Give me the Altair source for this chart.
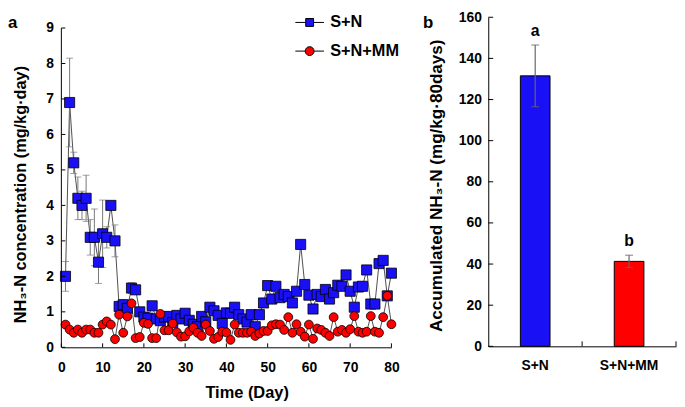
import altair as alt
import pandas as pd

# ---------------- data ----------------
days = list(range(1, 81))
sn = [2.0, 6.9, 5.2, 4.2, 4.0, 4.2, 3.1, 3.1, 2.4, 3.2,
      3.1, 4.0, 3.0, 1.15, 1.2, 1.1, 1.67, 1.62, 1.0, 0.85,
      0.82, 1.17, 0.8, 0.75, 0.85, 0.87, 0.7, 0.9, 0.8, 0.96,
      0.76, 0.65, 0.58, 0.87, 0.72, 1.13, 1.03, 0.9, 0.67, 0.97,
      0.96, 1.13, 0.92, 0.8, 0.71, 0.92, 0.58, 0.92, 1.25, 1.74,
      1.36, 1.72, 1.4, 1.49, 1.43, 1.25, 1.58, 2.9, 1.77, 1.47,
      1.08, 1.49, 1.43, 1.63, 1.36, 1.54, 1.75, 1.72, 2.04, 1.58,
      1.13, 1.7, 1.72, 2.18, 1.22, 1.22, 2.36, 2.45, 1.45, 2.09]
sn_err = [0.42, 1.25, 0.3, 0.6, 0.4, 0.65, 0.5, 0.8, 0.6, 0.95,
          0.3, 0.12, 0.45, 0.15, 0.15, 0.15, 0.15, 0.12, 0.1, 0.1,
          0.1, 0.1, 0.1, 0.1, 0.1, 0.1, 0.1, 0.1, 0.1, 0.1,
          0.1, 0.1, 0.1, 0.1, 0.1, 0.1, 0.1, 0.1, 0.1, 0.1,
          0.1, 0.1, 0.1, 0.1, 0.1, 0.1, 0.1, 0.1, 0.1, 0.1,
          0.1, 0.1, 0.1, 0.1, 0.1, 0.1, 0.1, 0.1, 0.1, 0.1,
          0.1, 0.1, 0.1, 0.1, 0.1, 0.1, 0.1, 0.1, 0.1, 0.1,
          0.1, 0.1, 0.1, 0.1, 0.1, 0.1, 0.1, 0.1, 0.1, 0.1]
snmm = [0.64, 0.5, 0.41, 0.5, 0.41, 0.5, 0.5, 0.41, 0.41, 0.64,
        0.73, 0.64, 0.23, 0.92, 0.41, 0.87, 1.24, 0.26, 0.29, 0.69,
        0.66, 0.26, 0.26, 0.94, 0.48, 0.48, 0.67, 0.42, 0.3, 0.31,
        0.45, 0.55, 0.41, 0.32, 0.64, 0.46, 0.24, 0.29, 0.44, 0.42,
        0.21, 0.64, 0.41, 0.41, 0.41, 0.44, 0.32, 0.39, 0.46, 0.46,
        0.62, 0.65, 0.64, 0.49, 0.85, 0.41, 0.65, 0.44, 0.3, 0.64,
        0.24, 0.53, 0.49, 0.41, 0.32, 0.85, 0.44, 0.49, 0.41, 0.51,
        0.88, 0.44, 0.41, 0.44, 0.88, 0.44, 0.41, 0.85, 1.45, 0.65]

groups = ["S+N", "S+N+MM"]
acc = [131.5, 41.3]
acc_err = [15.0, 3.0]
letters = ["a", "b"]

x_ticks_left = [0, 10, 20, 30, 40, 50, 60, 70, 80]
y_ticks_left = [0, 1, 2, 3, 4, 5, 6, 7, 8, 9]
y_ticks_right = [0, 20, 40, 60, 80, 100, 120, 140, 160]

# ---------------- styling ----------------
BLUE = "#1a10f5"
RED = "#ff0000"
FONT = "Liberation Sans"
WL, HL = 334, 334
WR, HR = 190, 333
YMAX_L = 9.303

SQ = "M-2,0H-0.55M0.55,0H2M-0.55,-0.55H0.55V0.55H-0.55Z"
CI = ("M-2,0H-0.62M0.62,0H2M-0.62,0A0.62,0.62,0,1,0,0.62,0"
      "A0.62,0.62,0,1,0,-0.62,0Z")

ts = pd.DataFrame({
    "day": days * 2,
    "value": sn + snmm,
    "series": ["S+N"] * len(days) + ["S+N+MM"] * len(days),
})
errdf = pd.DataFrame({
    "day": days,
    "lo": [v - e for v, e in zip(sn, sn_err)],
    "hi": [v + e for v, e in zip(sn, sn_err)],
})

xs = alt.Scale(domain=[0, 80], nice=False, zero=False)
ys = alt.Scale(domain=[0, YMAX_L], nice=False, zero=True)

X_AXIS = alt.Axis(
    values=x_ticks_left, title="Time (Day)", ticks=False, tickSize=0,
    labelPadding=13, labelFlush=False, labelOverlap=False, format="d",
    titleFontSize=16.6, titleX=187.5, titleY=46, titleAlign="center",
    titleBaseline="middle")
Y_AXIS = alt.Axis(
    values=y_ticks_left, title="NH₃-N concentration (mg/kg·day)",
    ticks=False, tickSize=0, domain=False, labelPadding=8,
    labelFlush=False, labelOverlap=False, format="d", titleFontSize=16.5,
    titleX=-41, titleY=179, titleAlign="center", titleBaseline="middle")


def xl(field):
    return alt.X(field, scale=xs, axis=X_AXIS)


def yl(field):
    return alt.Y(field, scale=ys, axis=Y_AXIS)


def make_legend(sym, ly):
    return alt.Legend(
        title=None, orient="none", legendX=243, legendY=ly,
        symbolType=sym, symbolSize=210, labelOffset=12.5, padding=0,
        labelFont=FONT, labelFontSize=16.5, labelFontWeight="bold",
        labelColor="black", symbolStrokeColor="black", symbolStrokeWidth=1,
        symbolOpacity=1,
    )


base = alt.Chart(ts)

err_rule = alt.Chart(errdf).mark_rule(color="#777777", strokeWidth=1).encode(
    x=xl("day:Q"), y=yl("lo:Q"), y2="hi:Q")
err_cap_hi = alt.Chart(errdf).mark_tick(orient="horizontal", size=7, thickness=1,
                                        color="#777777").encode(
    x=xl("day:Q"), y=yl("hi:Q"))
err_cap_lo = alt.Chart(errdf).mark_tick(orient="horizontal", size=7, thickness=1,
                                        color="#777777").encode(
    x=xl("day:Q"), y=yl("lo:Q"))

lines = base.mark_line(color="#222222", strokeWidth=0.8).encode(
    x=xl("day:Q"), y=yl("value:Q"), detail="series:N")
pts_blue = base.transform_filter(alt.datum.series == "S+N").mark_point(
    filled=True, shape="square", size=105, stroke="black", strokeWidth=0.8,
    opacity=1).encode(
    x=xl("day:Q"), y=yl("value:Q"),
    color=alt.Color("series:N", scale=alt.Scale(domain=["S+N"], range=[BLUE]),
                    legend=make_legend(SQ, -3)))
pts_red = base.transform_filter(alt.datum.series == "S+N+MM").mark_point(
    filled=True, shape="circle", size=80, stroke="black", strokeWidth=0.8,
    opacity=1).encode(
    x=xl("day:Q"), y=yl("value:Q"),
    fill=alt.Fill("series:N", scale=alt.Scale(domain=["S+N+MM"], range=[RED]),
                  legend=make_legend(CI, 26)))

ytick_df = pd.DataFrame({"v": y_ticks_left})
xtick_df = pd.DataFrame({"t": x_ticks_left})
yticks_l = alt.Chart(ytick_df).mark_rule(color="black", strokeWidth=1).encode(
    y=yl("v:Q"), x=alt.value(0), x2=alt.value(4))
xticks_l = alt.Chart(xtick_df).mark_rule(color="black", strokeWidth=1).encode(
    x=xl("t:Q"), y=alt.value(HL), y2=alt.value(HL - 4))
yaxis_line = alt.Chart(pd.DataFrame({"a": [0]})).mark_rule(color="black", strokeWidth=1).encode(
    x=alt.value(0), y=alt.Y(datum=0, scale=ys, axis=Y_AXIS), y2=alt.Y2(datum=9))
label_a = alt.Chart(pd.DataFrame({"t": ["a"]})).mark_text(
    font=FONT, fontSize=17, fontWeight="bold", color="black",
    baseline="middle", align="left").encode(
    text="t:N", x=alt.value(-54), y=alt.value(6))

left = alt.layer(lines, err_rule, err_cap_hi, err_cap_lo, pts_blue, pts_red,
                 yticks_l, xticks_l, yaxis_line, label_a).properties(width=WL, height=HL)

# ---------------- right panel ----------------
bars = pd.DataFrame({
    "group": groups,
    "acc": acc,
    "lo": [a - e for a, e in zip(acc, acc_err)],
    "hi": [a + e for a, e in zip(acc, acc_err)],
    "letter": letters,
})
xb = alt.Scale(domain=groups, paddingInner=0, paddingOuter=0)
yb = alt.Scale(domain=[0, 160], nice=False)
XB_AXIS = alt.Axis(title=None, labelAngle=0, ticks=False, tickSize=0, labelPadding=12)
YB_AXIS = alt.Axis(
    values=y_ticks_right, title="Accumulated NH₃-N (mg/kg·80days)",
    ticks=False, tickSize=0, labelPadding=7,
    labelFlush=False, labelOverlap=False, titleFontSize=17.3,
    titleX=-52, titleY=170, titleAlign="center", titleBaseline="middle")


def xr(field, bp=None):
    if bp is None:
        return alt.X(field, scale=xb, axis=XB_AXIS)
    return alt.X(field, scale=xb, axis=XB_AXIS, bandPosition=bp)


def yr(field):
    return alt.Y(field, scale=yb, axis=YB_AXIS)


bchart = alt.Chart(bars)
bar = bchart.mark_bar(size=30, stroke="black", strokeWidth=1).encode(
    x=xr("group:N"), y=yr("acc:Q"),
    fill=alt.Fill("group:N", scale=alt.Scale(domain=groups, range=[BLUE, RED]), legend=None))
bar_err = bchart.mark_rule(color="#666666", strokeWidth=1.2).encode(
    x=xr("group:N"), y=yr("lo:Q"), y2="hi:Q")
bar_cap_hi = bchart.mark_tick(orient="horizontal", size=8, thickness=1.2, color="#666666").encode(
    x=xr("group:N"), y=yr("hi:Q"))
bar_cap_lo = bchart.mark_tick(orient="horizontal", size=8, thickness=1.2, color="#666666").encode(
    x=xr("group:N"), y=yr("lo:Q"))
sig = bchart.mark_text(font=FONT, fontSize=16, fontWeight="bold", color="black",
                       baseline="alphabetic", dy=-9).encode(
    x=xr("group:N"), y=yr("hi:Q"), text="letter:N")

yt_r = pd.DataFrame({"v": y_ticks_right})
yticks_r = alt.Chart(yt_r).mark_rule(color="black", strokeWidth=1).encode(
    y=yr("v:Q"), x=alt.value(0), x2=alt.value(5))
edge = pd.DataFrame({"group": ["S+N+MM"]})
xtick_r0 = alt.Chart(edge).mark_rule(color="black", strokeWidth=1).encode(
    x=xr("group:N", 0), y=alt.value(HR), y2=alt.value(HR - 5))
xtick_r1 = alt.Chart(edge).mark_rule(color="black", strokeWidth=1).encode(
    x=xr("group:N", 1), y=alt.value(HR), y2=alt.value(HR - 5))
label_b = alt.Chart(pd.DataFrame({"t": ["b"]})).mark_text(
    font=FONT, fontSize=17, fontWeight="bold", color="black",
    baseline="middle", align="left").encode(
    text="t:N", x=alt.value(-66), y=alt.value(6))

right = alt.layer(bar, bar_err, bar_cap_hi, bar_cap_lo, sig, yticks_r,
                  xtick_r0, xtick_r1, label_b).properties(width=WR, height=HR)

chart = alt.hconcat(left, right, spacing=98, bounds="flush").resolve_scale(
    fill="independent", color="independent"
).resolve_legend(fill="independent", color="independent").properties(
    padding={"left": 0, "top": 0, "right": 0, "bottom": 0}
).configure_view(stroke=None).configure_axis(
    grid=False, domainColor="black", domainWidth=1,
    labelFont=FONT, labelFontSize=14, labelFontWeight="bold", labelColor="black",
    titleFont=FONT, titleFontSize=17, titleFontWeight="bold", titleColor="black",
).configure_text(font=FONT)

chart.save("out.html", embed_options={"renderer": "svg", "actions": False})
